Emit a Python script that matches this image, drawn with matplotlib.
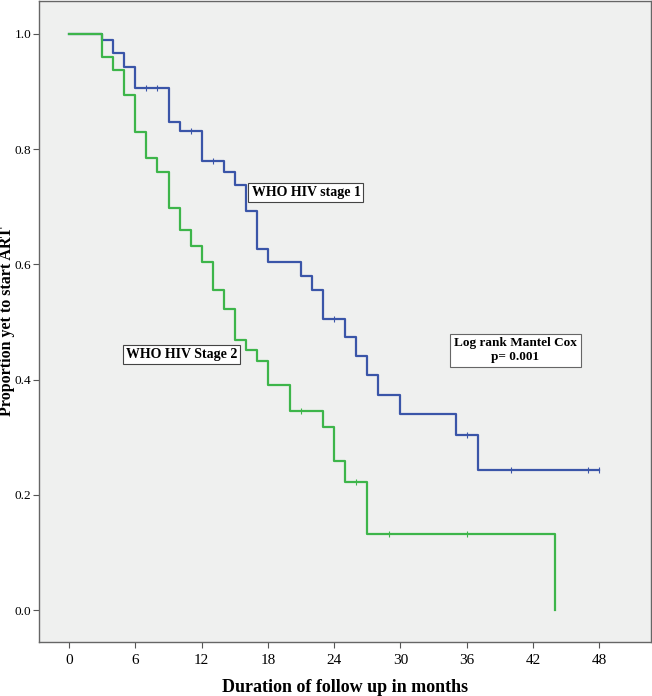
import numpy as np
import matplotlib.pyplot as plt

# Kaplan-Meier steps
stage1_t = [0, 3, 4, 5, 6, 9, 10, 12, 14, 15, 16, 17, 18, 21, 22, 23, 25, 26, 27, 28, 30, 35, 37, 48]
stage1_s = [1.0, 0.990, 0.966, 0.943, 0.906, 0.847, 0.831, 0.779, 0.760, 0.737, 0.693, 0.626,
            0.604, 0.579, 0.556, 0.505, 0.474, 0.441, 0.408, 0.374, 0.340, 0.303, 0.243, 0.243]
stage1_cens = [7, 8, 11, 13, 24, 36, 40, 47, 48]

stage2_t = [0, 3, 4, 5, 6, 7, 8, 9, 10, 11, 12, 13, 14, 15, 16, 17, 18, 20, 23, 24, 25, 27, 44]
stage2_s = [1.0, 0.959, 0.938, 0.894, 0.830, 0.785, 0.760, 0.697, 0.659, 0.632, 0.604, 0.556,
            0.522, 0.469, 0.451, 0.433, 0.390, 0.345, 0.317, 0.258, 0.222, 0.132, 0.0]
stage2_cens = [21, 26, 29, 36]

xticks = [0, 6, 12, 18, 24, 30, 36, 42, 48]
yticks = [0.0, 0.2, 0.4, 0.6, 0.8, 1.0]

blue = "#3a55a8"
green = "#3db54a"
serif = ["Liberation Serif", "DejaVu Serif"]


def surv_at(ts, ss, t):
    i = np.searchsorted(ts, t, side="right") - 1
    return ss[i]


fig = plt.figure(figsize=(6.52, 6.96), dpi=100)
ax = fig.add_axes([0.0598, 0.0776, 0.9387, 0.921])
ax.set_facecolor("#eff0ef")

ax.step(stage1_t, stage1_s, where="post", color=blue, lw=1.6, zorder=3)
ax.step(stage2_t, stage2_s, where="post", color=green, lw=1.6, zorder=3)

c1 = [surv_at(stage1_t, stage1_s, t) for t in stage1_cens]
c2 = [surv_at(stage2_t, stage2_s, t) for t in stage2_cens]
ax.plot(stage1_cens, c1, "|", color=blue, ms=4, mew=0.8, zorder=4)
ax.plot(stage2_cens, c2, "|", color=green, ms=4, mew=0.8, zorder=4)

ax.set_xlim(-2.73, 52.7)
ax.set_ylim(-0.0555, 1.057)
ax.set_xticks(xticks)
ax.set_xticklabels([str(t) for t in xticks], family=serif, fontsize=11)
ax.set_yticks(yticks)
ax.set_yticklabels([f"{v:.1f}" for v in yticks], family=serif, fontsize=9.5)
ax.tick_params(direction="out", length=4, width=0.8, color="#555555")
ax.tick_params(axis="x", pad=5)
ax.tick_params(axis="y", pad=1.5)
for sp in ax.spines.values():
    sp.set_color("#666666")
    sp.set_linewidth(1.0)

ax.set_xlabel("Duration of follow up in months", family=serif, fontsize=13,
              fontweight="bold", labelpad=8)
ax.set_ylabel("Proportion yet to start ART", family=serif, fontsize=11.5,
              fontweight="bold", va="center")
ax.yaxis.set_label_coords(-0.0515, 0.5)

box = dict(boxstyle="square,pad=0.22", fc="white", ec="#444444", lw=0.8)
ax.text(21.45, 0.724, "WHO HIV stage 1", family=serif, fontsize=10, fontweight="bold",
        ha="center", va="center", bbox=box, zorder=5)
ax.text(10.18, 0.444, "WHO HIV Stage 2", family=serif, fontsize=10, fontweight="bold",
        ha="center", va="center", bbox=box, zorder=5)
ax.text(40.4, 0.451, "Log rank Mantel Cox\np= 0.001", family=serif, fontsize=9.5,
        fontweight="bold", ha="center", va="center", linespacing=1.15,
        bbox=dict(boxstyle="square,pad=0.3", fc="white", ec="#666666", lw=0.8), zorder=5)

fig.savefig("out.png", dpi=100)
